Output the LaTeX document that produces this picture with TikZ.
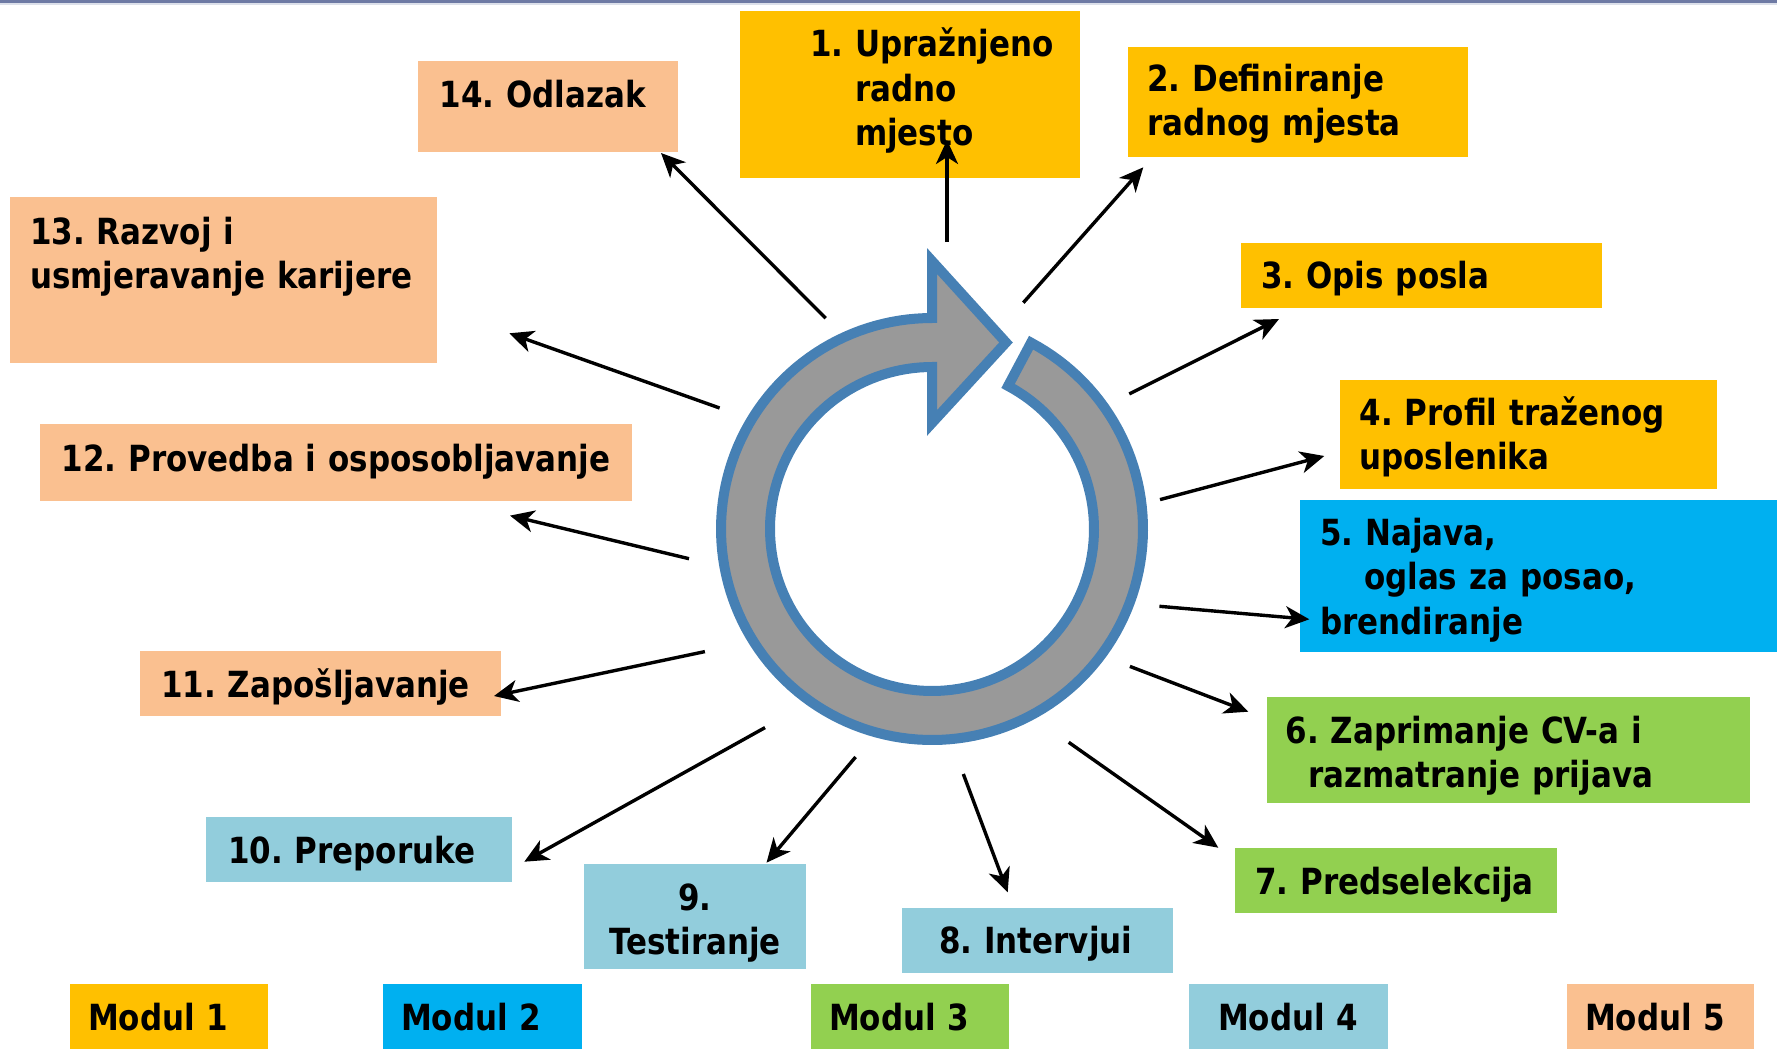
\documentclass[tikz,border=0pt]{standalone}
\usepackage{fontspec}
\setmainfont{DejaVu Sans}[FakeStretch=0.86]
\usetikzlibrary{arrows.meta}
\definecolor{yel}{HTML}{FFC000}
\definecolor{cyn}{HTML}{00B0F0}
\definecolor{grn}{HTML}{92D050}
\definecolor{lbl}{HTML}{92CDDC}
\definecolor{pch}{HTML}{FAC090}
\definecolor{ringfill}{HTML}{999999}
\definecolor{ringedge}{HTML}{4680B4}
\definecolor{topline}{HTML}{6E7AA4}
\definecolor{toplight}{HTML}{DCE0EA}
\begin{document}
\begin{tikzpicture}[x=1pt,y=-1pt,
  boxst/.style={anchor=north west, inner sep=0pt, outer sep=0pt, draw=none},
  txt/.style={anchor=base west, inner sep=0pt, outer sep=0pt, align=left, text width=800pt,
    font=\fontsize{36}{44.5}\selectfont\bfseries\frenchspacing},
  txtc/.style={anchor=base, inner sep=0pt, outer sep=0pt, align=center, text width=220pt,
    font=\fontsize{36}{44.5}\selectfont\bfseries\frenchspacing},
  arr/.style={line width=3.4pt, -{Stealth[length=24pt, width=22pt, inset=7pt]}},
  ring/.style={line width=10pt, draw=ringedge, fill=ringfill, line join=miter, miter limit=10}]
\useasboundingbox (0,0) rectangle (1777,1049);
\fill[topline] (0,0) rectangle (1777,3.5);
\fill[toplight] (0,3.5) rectangle (1777,5);

% boxes
\node[boxst, fill=yel, minimum width=340pt, minimum height=166.5pt] (b1) at (740,11) {};
\node[boxst, fill=yel, minimum width=339.5pt, minimum height=109pt] (b2) at (1128,47.5) {};
\node[boxst, fill=yel, minimum width=361pt, minimum height=64.5pt] (b3) at (1241,243) {};
\node[boxst, fill=yel, minimum width=376.5pt, minimum height=109pt] (b4) at (1340,379.5) {};
\node[boxst, fill=cyn, minimum width=477pt, minimum height=151.5pt] (b5) at (1300,500) {};
\node[boxst, fill=grn, minimum width=483pt, minimum height=105.5pt] (b6) at (1267,697) {};
\node[boxst, fill=grn, minimum width=321.5pt, minimum height=64.5pt] (b7) at (1235,848) {};
\node[boxst, fill=lbl, minimum width=271pt, minimum height=64.5pt] (b8) at (901.5,908) {};
\node[boxst, fill=lbl, minimum width=221.7pt, minimum height=105pt] (b9) at (583.8,863.5) {};
\node[boxst, fill=lbl, minimum width=306pt, minimum height=64.7pt] (b10) at (206,817) {};
\node[boxst, fill=pch, minimum width=361pt, minimum height=64.5pt] (b11) at (140,651) {};
\node[boxst, fill=pch, minimum width=592.4pt, minimum height=76.5pt] (b12) at (40,424) {};
\node[boxst, fill=pch, minimum width=426.5pt, minimum height=165.7pt] (b13) at (10,197.3) {};
\node[boxst, fill=pch, minimum width=259.5pt, minimum height=90.5pt] (b14) at (418,61) {};
\node[boxst, fill=yel, minimum width=198pt, minimum height=65pt] (m1) at (70.3,984) {};
\node[boxst, fill=cyn, minimum width=199pt, minimum height=65pt] (m2) at (383.1,984) {};
\node[boxst, fill=grn, minimum width=198pt, minimum height=65pt] (m3) at (811.4,984) {};
\node[boxst, fill=lbl, minimum width=199pt, minimum height=65pt] (m4) at (1188.8,984) {};
\node[boxst, fill=pch, minimum width=187pt, minimum height=65pt] (m5) at (1567.3,984) {};

% texts
\node[txt] (t1) at (810,56.7) {1. Upražnjeno\\\hspace*{45pt}radno\\\hspace*{45pt}mjesto};
\node[txt] (t2) at (1147,91) {2. Definiranje\\radnog mjesta};
\node[txt] (t3) at (1261,288.3) {3. Opis posla};
\node[txt] (t4) at (1359.5,425) {4. Profil traženog\\uposlenika};
\node[txt] (t5) at (1320,545) {5. Najava,\\\hspace*{44pt}oglas za posao,\\brendiranje};
\node[txt] (t6) at (1285.5,743.3) {6. Zaprimanje CV-a i\\\hspace*{23pt}razmatranje prijava};
\node[txt] (t7) at (1255,894) {7. Predselekcija};
\node[txt] (t8) at (939,953.3) {8. Intervjui};
\node[txtc] (t9) at (695,910) {9.\\Testiranje};
\node[txt] (t10) at (228,863.3) {10. Preporuke};
\node[txt] (t11) at (161,697.3) {11. Zapošljavanje};
\node[txt] (t12) at (61.5,471.7) {12. Provedba i osposobljavanje};
\node[txt] (t13) at (30,244) {13. Razvoj i\\usmjeravanje karijere};
\node[txt] (t14) at (439.5,107.3) {14. Odlazak};
\node[txt] (tm1) at (88,1030) {Modul 1};
\node[txt] (tm2) at (401,1030) {Modul 2};
\node[txt] (tm3) at (829,1030) {Modul 3};
\node[txt] (tm4) at (1218,1030) {Modul 4};
\node[txt] (tm5) at (1585,1030) {Modul 5};

% ring arrow
\draw[ring] plot[domain=-62:270, samples=150] ({932+211*cos(\x)},{529+211*sin(\x)})
  -- (932,261) -- (1006,342.5) -- (932,423) -- (932,367)
  -- plot[domain=270:-62, samples=150] ({932+162*cos(\x)},{529+162*sin(\x)}) -- cycle;

% arrow coordinates
\coordinate (s1) at (947,242);     \coordinate (e1) at (947,140);
\coordinate (s2) at (1023.3,302.7); \coordinate (e2) at (1143.3,167.3);
\coordinate (s3) at (1129.3,393.9); \coordinate (e3) at (1279,319);
\coordinate (s4) at (1160,499.6);  \coordinate (e4) at (1324.3,456);
\coordinate (s5) at (1159.4,606.3); \coordinate (e5) at (1309.3,619.3);
\coordinate (s6) at (1129.9,666.4); \coordinate (e6) at (1248.3,711.7);
\coordinate (s7) at (1068.7,742.3); \coordinate (e7) at (1218.3,847.7);
\coordinate (s8) at (963.3,774);   \coordinate (e8) at (1007.7,892.3);
\coordinate (s9) at (855.6,757);   \coordinate (e9) at (766.5,862.7);
\coordinate (s10) at (765,727.6);  \coordinate (e10) at (524.3,861.7);
\coordinate (s11) at (704.9,651.6); \coordinate (e11) at (494,696);
\coordinate (s12) at (689,558.7);  \coordinate (e12) at (510,515.6);
\coordinate (s13) at (719.6,408);  \coordinate (e13) at (509.3,333.3);
\coordinate (s14) at (825.7,318.2); \coordinate (e14) at (661,153);
\foreach \i in {1,...,14} { \draw[arr] (s\i) -- (e\i); }
\end{tikzpicture}
\end{document}
